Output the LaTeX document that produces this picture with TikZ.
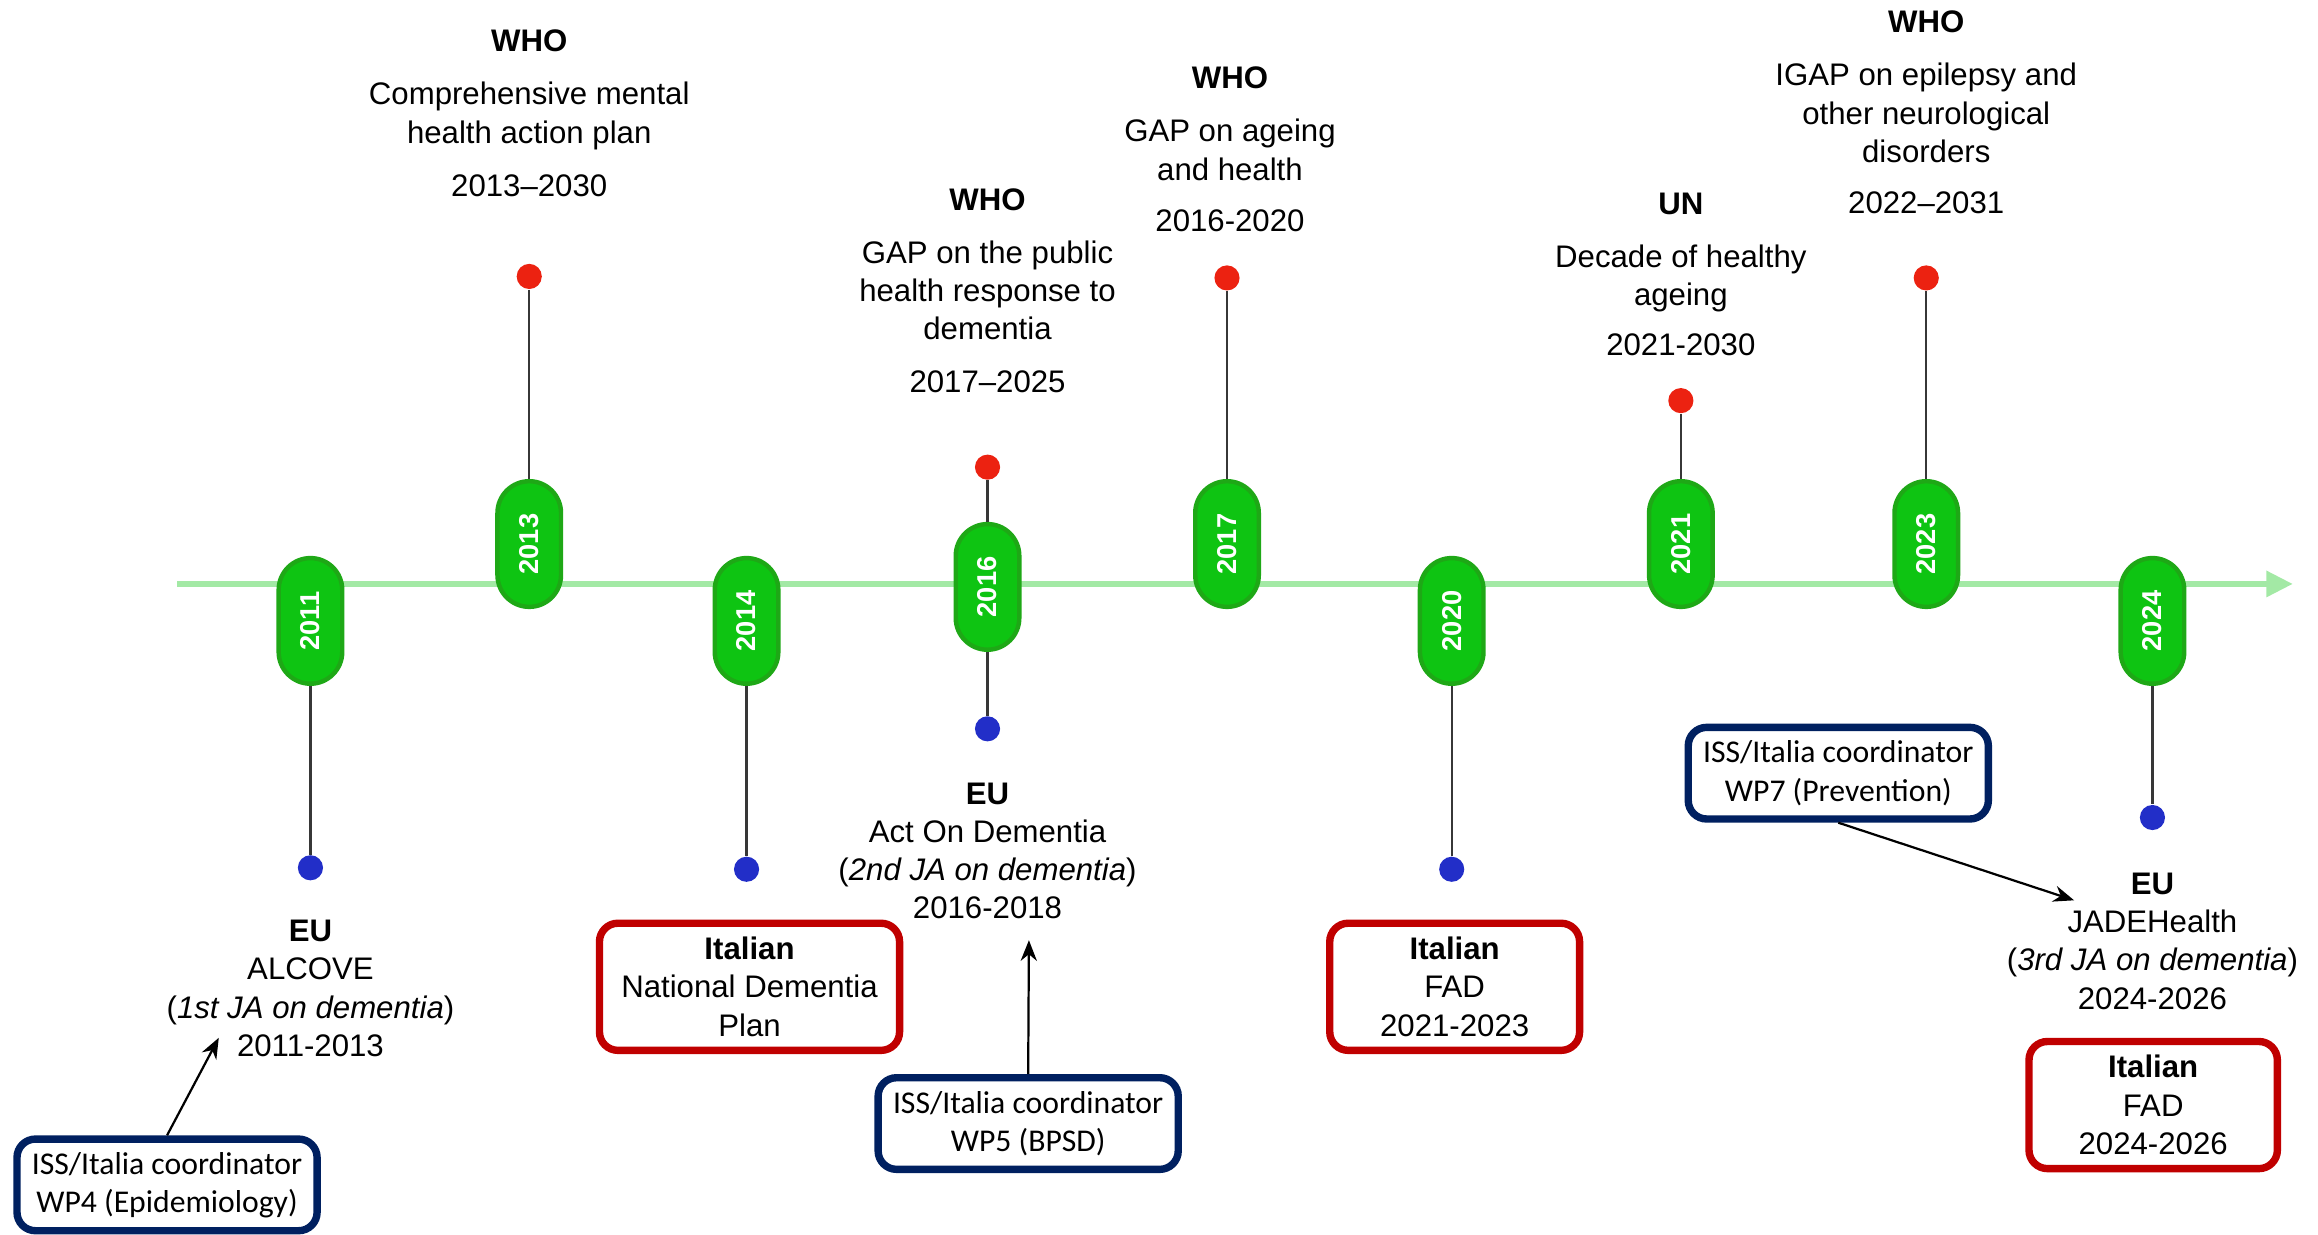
\documentclass[tikz,border=0pt]{standalone}
\usepackage{fontspec}
\setmainfont{Liberation Sans}
\newfontfamily\calibri{Carlito}
\usetikzlibrary{arrows.meta}
\definecolor{pillgreen}{RGB}{14,196,18}
\definecolor{pilledge}{RGB}{30,168,22}
\definecolor{axisgreen}{RGB}{163,233,165}
\definecolor{dotred}{RGB}{236,34,17}
\definecolor{dotblue}{RGB}{34,46,200}
\definecolor{itared}{RGB}{192,0,0}
\definecolor{issblue}{RGB}{0,32,96}
\definecolor{stemgray}{RGB}{55,55,55}

\begin{document}
\begin{tikzpicture}[x=0.2mm,y=-0.2mm,
  pill/.style={draw=pilledge,line width=0.6mm,fill=pillgreen,rounded corners=4.3mm,
    minimum width=17mm,minimum height=8.6mm,inner sep=0,rotate=90,
    text=white,font=\fontsize{10.5}{12}\selectfont\bfseries},
  dot/.style={circle,inner sep=0,minimum size=3.4mm},
  reddot/.style={dot,fill=dotred},
  bluedot/.style={dot,fill=dotblue},
  stem/.style={draw=stemgray,line width=0.3mm},
  lbl/.style={align=center,inner sep=0,anchor=north,font=\fontsize{12}{14.74}\selectfont},
  itabox/.style={draw=itared,line width=1mm,rounded corners=2.5mm,align=center,
    inner sep=0,minimum height=17.2mm,font=\fontsize{12}{14.74}\selectfont},
  issbox/.style={draw=issblue,line width=1mm,rounded corners=2.5mm,align=center,
    inner sep=0,minimum width=40.6mm,minimum height=12.4mm,font=\calibri\fontsize{12.2}{14.74}\selectfont},
  ptr/.style={line width=0.3mm,-{Stealth[length=2.8mm,width=2.2mm]}},
  axis/.style={draw=axisgreen,line width=0.8mm,-{Triangle[length=3.6mm,width=3.4mm]}}]
\useasboundingbox (0,0) rectangle (1568,835);

% time axis
\coordinate (tl0) at (120,395);
\coordinate (tl1) at (1551,395);
\draw[axis] (tl0) -- (tl1);

% years
\foreach \yr/\px/\py in {2011/210/420,2013/358/368,2014/505/420,2016/668/397,2017/830/368,
    2020/982/420,2021/1137/368,2023/1303/368,2024/1456/420}
  \node[pill] (p\yr) at (\px,\py) {\yr};

% red = international, blue = EU / Italian
\foreach \yr/\px/\py in {2013/358/187,2016/668/316,2017/830/188,2021/1137/271,2023/1303/188}
  {\node[reddot] (r\yr) at (\px,\py) {};
   \draw[stem] (p\yr) -- (r\yr);}
\foreach \yr/\px/\py in {2011/210/587,2014/505/588,2016/668/493,2020/982/588,2024/1456/553}
  {\node[bluedot] (b\yr) at (\px,\py) {};
   \draw[stem] (p\yr) -- (b\yr);}

% above the axis
\node[lbl] (who2013) at (358,20) {\textbf{WHO}\\[2mm] Comprehensive mental\\ health action plan\\[2mm] 2013--2030};
\node[lbl] (who2016) at (668,127) {\textbf{WHO}\\[2mm] GAP on the public\\ health response to\\ dementia\\[2mm] 2017--2025};
\node[lbl] (who2017) at (832,45) {\textbf{WHO}\\[2mm] GAP on ageing\\ and health\\[1.8mm] 2016-2020};
\node[lbl] (un2021) at (1137,130) {\textbf{UN}\\[2mm] Decade of healthy\\ ageing\\[1.6mm] 2021-2030};
\node[lbl] (who2023) at (1303,7) {\textbf{WHO}\\[2mm] IGAP on epilepsy and\\ other neurological\\ disorders\\[1.8mm] 2022--2031};

% below the axis
\node[lbl] (eu2011) at (210,622) {\textbf{EU}\\ ALCOVE\\ (\textit{1st JA on dementia})\\ 2011-2013};
\node[lbl] (eu2016) at (668,529) {\textbf{EU}\\ Act On Dementia\\ (\textit{2nd JA on dementia})\\ 2016-2018};
\node[lbl] (eu2024) at (1456,590) {\textbf{EU}\\ JADEHealth\\ (\textit{3rd JA on dementia})\\ 2024-2026};

\node[itabox,minimum width=40.6mm] (ita2014) at (507,667.5) {\textbf{Italian}\\ National Dementia\\ Plan};
\node[itabox,minimum width=33.8mm] (ita2020) at (984,667.5) {\textbf{Italian}\\ FAD\\ 2021-2023};
\node[itabox,minimum width=33.6mm] (ita2024) at (1456.5,747.5) {\textbf{Italian}\\ FAD\\ 2024-2026};

% ISS work packages
\node[issbox] (issWP4) at (113,801.5) {ISS/Italia coordinator\\ WP4 (Epidemiology)};
\node[issbox] (issWP5) at (695.5,760) {ISS/Italia coordinator\\ WP5 (BPSD)};
\node[issbox] (issWP7) at (1243.5,523) {ISS/Italia coordinator\\ WP7 (Prevention)};
\coordinate (tip4) at (148,702);
\coordinate (tip5) at (696,636);
\coordinate (tip7) at (1403,609);
\draw[ptr] (issWP4.north) -- (tip4);
\draw[ptr] (issWP5.north) -- (tip5);
\draw[ptr] (issWP7.south) -- (tip7);
\end{tikzpicture}
\end{document}
